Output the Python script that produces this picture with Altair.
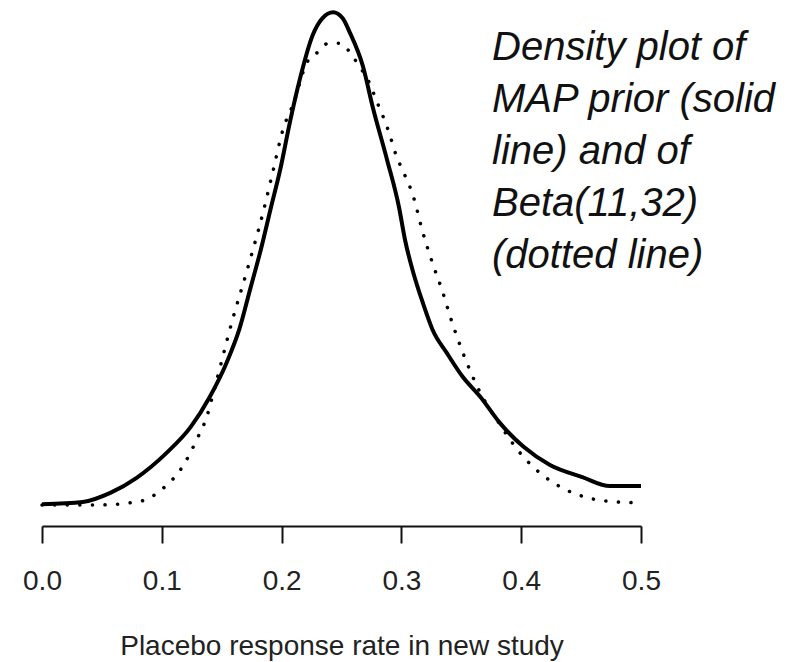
import altair as alt
import pandas as pd

# MAP prior (solid line): x = response rate, d = density
map_x = [0.000, 0.034, 0.057, 0.079, 0.104, 0.124, 0.140, 0.154, 0.165, 0.174, 0.183,
         0.191, 0.199, 0.207, 0.215, 0.226, 0.234, 0.243, 0.251, 0.257, 0.268, 0.276,
         0.288, 0.298, 0.303, 0.310, 0.318, 0.326, 0.338, 0.351, 0.366, 0.382, 0.402,
         0.424, 0.451, 0.474, 0.500]
map_d = [0.01, 0.04, 0.16, 0.36, 0.69, 1.03, 1.43, 1.88, 2.34, 2.87, 3.40,
         3.93, 4.45, 5.07, 5.62, 6.22, 6.44, 6.52, 6.44, 6.25, 5.80, 5.27,
         4.57, 3.94, 3.51, 3.07, 2.67, 2.32, 2.01, 1.70, 1.43, 1.09, 0.77,
         0.53, 0.37, 0.25, 0.25]

# Beta(11,32) (dotted line)
beta_x = [0.000, 0.046, 0.082, 0.101, 0.117, 0.129, 0.138, 0.143, 0.159, 0.172, 0.185,
          0.193, 0.201, 0.210, 0.221, 0.230, 0.239, 0.249, 0.257, 0.265, 0.271, 0.280,
          0.289, 0.296, 0.301, 0.310, 0.318, 0.326, 0.334, 0.341, 0.357, 0.366, 0.380,
          0.399, 0.416, 0.435, 0.457, 0.480, 0.493, 0.500]
beta_d = [0.00, 0.00, 0.05, 0.22, 0.50, 0.86, 1.19, 1.48, 2.45, 3.15, 3.90,
          4.43, 4.96, 5.32, 5.85, 5.99, 6.11, 6.11, 5.99, 5.80, 5.66, 5.32,
          4.96, 4.61, 4.43, 4.08, 3.60, 3.20, 2.84, 2.48, 1.79, 1.48, 1.12,
          0.69, 0.42, 0.22, 0.09, 0.04, 0.03, 0.01]

x_ticks = [0.0, 0.1, 0.2, 0.3, 0.4, 0.5]
note_lines = ["Density plot of", "MAP prior (solid", "line) and of", "Beta(11,32)", "(dotted line)"]

map_df = pd.DataFrame({"x": map_x, "d": map_d})
beta_df = pd.DataFrame({"x": beta_x, "d": beta_d})

FONT = "Liberation Sans"

xscale = alt.Scale(domain=[0, 0.5], nice=False, zero=False)
yscale = alt.Scale(domain=[0, 6.55], nice=False)

xaxis = alt.Axis(
    values=x_ticks, format=".1f", offset=21, domainWidth=2, domainColor="#111",
    tickWidth=2, tickColor="#111", tickSize=17, labelFontSize=28, labelFont=FONT,
    labelColor="#222", labelPadding=24, labelFlush=False, grid=False,
    title="Placebo response rate in new study", titleFontSize=28, titleFont=FONT,
    titleFontWeight="normal", titleColor="#222", titlePadding=37,
)

solid = alt.Chart(map_df).mark_line(color="black", strokeWidth=4, interpolate="monotone").encode(
    x=alt.X("x:Q", scale=xscale, axis=xaxis),
    y=alt.Y("d:Q", scale=yscale, axis=None),
)

dotted = alt.Chart(beta_df).mark_line(
    color="black", strokeWidth=3.5, strokeDash=[0.1, 12.5], strokeCap="round", interpolate="monotone"
).encode(
    x=alt.X("x:Q", scale=xscale, axis=xaxis),
    y=alt.Y("d:Q", scale=yscale, axis=None),
)

note = alt.Chart(pd.DataFrame({"a": [0]})).mark_text(
    align="left", baseline="top", font=FONT, fontSize=40, fontStyle="italic",
    lineHeight=52, color="#111"
).encode(
    x=alt.value(450), y=alt.value(18), text=alt.value(note_lines)
)

chart = alt.layer(dotted, solid, note).properties(
    width=599, height=495,
    autosize=alt.AutoSizeParams(type="none"),
    padding={"left": 42, "top": 10, "right": 153, "bottom": 157},
    background="white",
).configure_view(stroke=None)

chart.save("out.html", embed_options={"renderer": "svg", "actions": False})
